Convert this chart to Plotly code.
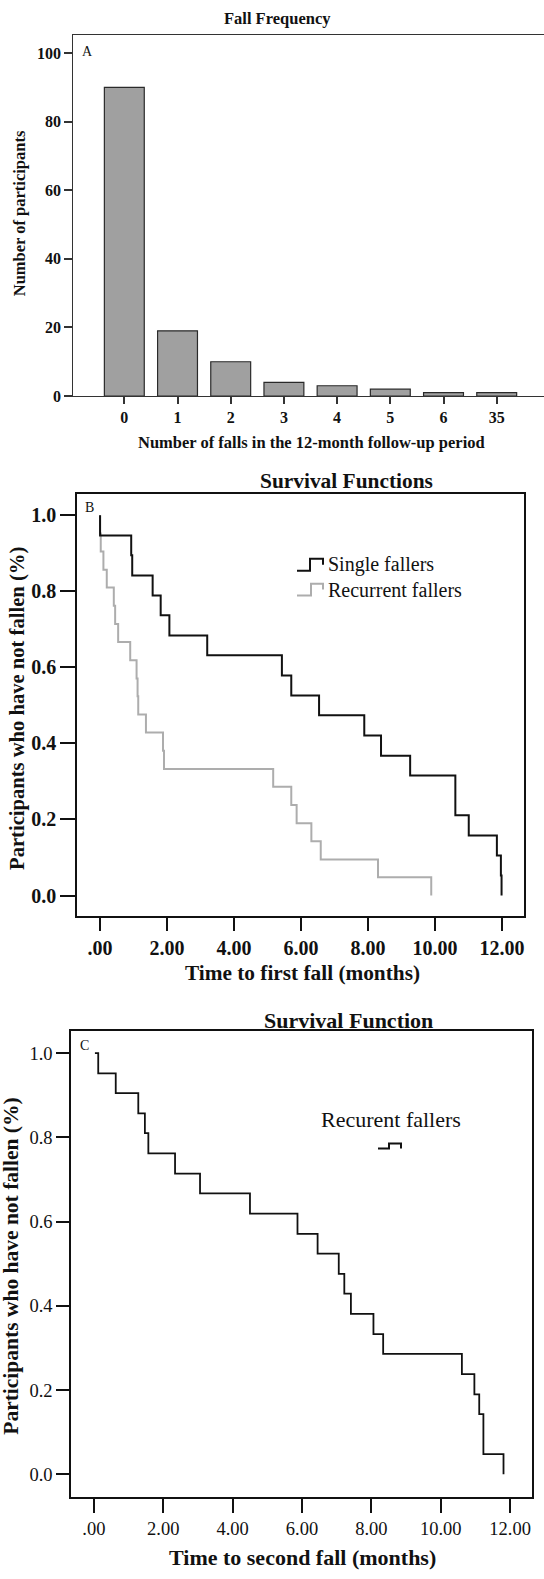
import plotly.graph_objects as go

W, H = 544, 1579
SERIF = "Liberation Serif"

# ---------------- data ----------------
# Panel A: fall frequency
fall_counts = ["0", "1", "2", "3", "4", "5", "6", "35"]
participants = [90, 19, 10, 4, 3, 2, 1, 1]

# Panel B: time to first fall (Kaplan-Meier steps)
single_t = [0, 0, 0.93, 0.96, 1.57, 1.81, 2.07, 3.20, 5.43, 5.71, 6.54, 7.89,
            8.39, 9.26, 10.61, 11.01, 11.85, 11.97, 11.99]
single_s = [1.0, 0.947, 0.895, 0.842, 0.789, 0.737, 0.684, 0.632, 0.579, 0.526,
            0.474, 0.421, 0.368, 0.316, 0.211, 0.158, 0.105, 0.053, 0.0]

recur_t = [0, 0, 0.02, 0.10, 0.20, 0.41, 0.45, 0.54, 0.90, 1.09, 1.12, 1.14,
           1.37, 1.88, 1.91, 5.17, 5.71, 5.87, 6.31, 6.59, 8.30, 9.89]
recur_s = [1.0, 0.952, 0.905, 0.857, 0.810, 0.762, 0.714, 0.667, 0.619, 0.571,
           0.524, 0.476, 0.429, 0.381, 0.333, 0.286, 0.238, 0.190, 0.143, 0.095,
           0.048, 0.0]

# Panel C: time to second fall
second_t = [0.03, 0.125, 0.63, 1.28, 1.47, 1.57, 2.34, 3.06, 4.50, 5.87, 6.45,
            7.06, 7.22, 7.41, 8.06, 8.34, 10.61, 10.97, 11.11, 11.23, 11.81]
second_s = [1.0, 0.952, 0.905, 0.857, 0.810, 0.762, 0.714, 0.667, 0.619, 0.571,
            0.524, 0.476, 0.429, 0.381, 0.333, 0.286, 0.238, 0.190, 0.143, 0.048,
            0.0]

count_ticks = [0, 20, 40, 60, 80, 100]
surv_ticks = [0.0, 0.2, 0.4, 0.6, 0.8, 1.0]
surv_tick_text = ["0.0", "0.2", "0.4", "0.6", "0.8", "1.0"]
month_ticks = [0, 2, 4, 6, 8, 10, 12]
month_tick_text = [".00", "2.00", "4.00", "6.00", "8.00", "10.00", "12.00"]


def fx(x):
    return x / W


def fy(y):
    return 1 - y / H


fig = go.Figure()

fig.add_trace(go.Bar(
    x=fall_counts, y=participants, width=0.75,
    marker=dict(color="#a0a0a0", line=dict(color="#2a2a2a", width=1.2)),
    xaxis="x", yaxis="y", showlegend=False))

fig.add_trace(go.Scatter(
    x=recur_t, y=recur_s, mode="lines", line=dict(color="#adadad", width=2, shape="hv"),
    xaxis="x2", yaxis="y2", showlegend=False))
fig.add_trace(go.Scatter(
    x=single_t, y=single_s, mode="lines", line=dict(color="#111111", width=2, shape="hv"),
    xaxis="x2", yaxis="y2", showlegend=False))

fig.add_trace(go.Scatter(
    x=second_t, y=second_s, mode="lines", line=dict(color="#111111", width=1.8, shape="hv"),
    xaxis="x3", yaxis="y3", showlegend=False))

tickA = dict(family=SERIF, size=16, color="#111", weight="bold")
tickB = dict(family=SERIF, size=20, color="#111", weight="bold")
tickC = dict(family=SERIF, size=18.5, color="#111")

fig.update_layout(
    width=W, height=H, margin=dict(l=0, r=0, t=0, b=0),
    paper_bgcolor="white", plot_bgcolor="white",
    font=dict(family=SERIF, color="#111"),
    # Panel A
    xaxis=dict(domain=[fx(73.3), 1.0], anchor="y", type="category",
               range=[-0.959, 7.889], showline=True, linecolor="#333", linewidth=1.3,
               mirror=True, ticks="outside", ticklen=7, tickwidth=1.5, tickcolor="#333",
               tickfont=tickA, showgrid=False, zeroline=False),
    yaxis=dict(domain=[fy(398.3), fy(34.7)], anchor="x", range=[0, 105.4],
               tickvals=count_ticks, showline=True, linecolor="#333", linewidth=1.3,
               ticks="outside", ticklen=8, tickwidth=1.5, tickcolor="#333",
               tickfont=tickA, showgrid=False, zeroline=False),
    # Panel B
    xaxis2=dict(domain=[fx(77.3), fx(524)], anchor="y2", range=[-0.68, 12.66],
                tickvals=month_ticks, ticktext=month_tick_text,
                showline=True, linecolor="#111", linewidth=2, mirror=True,
                ticks="outside", ticklen=13, tickwidth=2, tickcolor="#111",
                tickfont=tickB, showgrid=False, zeroline=False),
    yaxis2=dict(domain=[fy(921.7), fy(496.7)], anchor="x2", range=[-0.055, 1.0565],
                tickvals=surv_ticks, ticktext=surv_tick_text,
                showline=True, linecolor="#111", linewidth=2, mirror=True,
                ticks="outside", ticklen=15, tickwidth=2, tickcolor="#111",
                tickfont=tickB, showgrid=False, zeroline=False),
    # Panel C
    xaxis3=dict(domain=[fx(71), fx(532.3)], anchor="y3", range=[-0.66, 12.64],
                tickvals=month_ticks, ticktext=month_tick_text,
                showline=True, linecolor="#111", linewidth=1.6, mirror=True,
                ticks="outside", ticklen=14, tickwidth=2, tickcolor="#111",
                tickfont=tickC, showgrid=False, zeroline=False),
    yaxis3=dict(domain=[fy(1505.7), fy(1036.7)], anchor="x3", range=[-0.054, 1.053],
                tickvals=surv_ticks, ticktext=surv_tick_text,
                showline=True, linecolor="#111", linewidth=1.6, mirror=True,
                ticks="outside", ticklen=13, tickwidth=2, tickcolor="#111",
                tickfont=tickC, showgrid=False, zeroline=False),
)


def note(text, x, y, size, bold=False, xanchor="center", angle=0):
    fig.add_annotation(
        text=text, x=fx(x), y=fy(y), xref="paper", yref="paper",
        xanchor=xanchor, yanchor="middle", showarrow=False, textangle=angle,
        font=dict(family=SERIF, size=size, color="#111",
                  weight="bold" if bold else "normal"))


# Panel A texts
note("Fall Frequency", 277, 19, 16.5, bold=True)
note("A", 87, 51.5, 14)
note("Number of falls in the 12-month follow-up period", 311, 445, 16.5, bold=True)
note("Number of participants", 19.5, 215, 16.5, bold=True, angle=-90)

# Panel B texts
note("Survival Functions", 346, 484, 21.4, bold=True)
note("B", 89, 510.5, 14)
note("Time to first fall (months)", 302, 979, 21.3, bold=True)
note("Participants who have not fallen (%)", 18, 713, 20.6, bold=True, angle=-90)
note("Single fallers", 326, 568, 20, xanchor="left")
note("Recurrent fallers", 326, 593, 20, xanchor="left")

# Panel C texts
note("Survival Function", 348.5, 1026.7, 22, bold=True)
note("C", 84, 1051.3, 14)
note("Time to second fall (months)", 302.5, 1566, 22, bold=True)
note("Participants who have not fallen (%)", 11, 1274, 21.5, bold=True, angle=-90)
note("Recurent fallers", 319, 1125.7, 22, xanchor="left")


def glyph(pts, color, width):
    path = "M " + " L ".join(f"{fx(x)},{fy(y)}" for x, y in pts)
    fig.add_shape(type="path", path=path, xref="paper", yref="paper",
                  line=dict(color=color, width=width))


glyph([(297, 574), (310, 574), (310, 562), (323, 562), (323, 568)], "#111", 2)
glyph([(297, 599), (311, 599), (311, 587), (323, 587), (323, 593)], "#adadad", 2)
glyph([(378, 1155), (389, 1155), (389, 1150), (401, 1150), (401, 1155)], "#111", 2)

fig.write_html(
    "out.html",
    config={"displayModeBar": False},
    post_script="document.body.style.margin='0';document.body.style.overflow='hidden';",
)
